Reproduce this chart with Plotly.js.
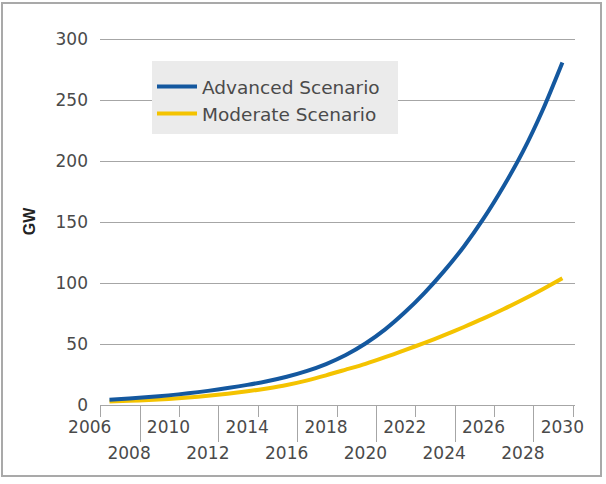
<!DOCTYPE html>
<html>
<head>
<meta charset="utf-8">
<script src="https://cdn.plot.ly/plotly-3.0.1.min.js"></script>
<style>
  html, body { margin: 0; padding: 0; background: #fff; }
  #wrap { position: relative; width: 606px; height: 484px; }
  #chart { position: absolute; left: 0; top: 0; width: 606px; height: 484px; }
  #frame { position: absolute; left: 1px; top: 2px; width: 597px; height: 471px;
           border: 2px solid #a9a9a9; pointer-events: none; }
</style>
</head>
<body>
<div id="wrap">
  <div id="chart"></div>
  <div id="frame"></div>
</div>
<script>
// ---- data ----
const years = [2007, 2008, 2009, 2010, 2011, 2012, 2013, 2014, 2015, 2016, 2017, 2018,
               2019, 2020, 2021, 2022, 2023, 2024, 2025, 2026, 2027, 2028, 2029, 2030];
const advanced = [4.3, 5.3, 6.5, 7.9, 9.6, 11.6, 13.9, 16.5, 19.5, 23.2, 27.8, 33.6,
                  41, 50.4, 62, 76, 92, 110, 130, 153, 179, 208, 242, 281];
const moderate = [2.8, 3.4, 4.1, 5.0, 6.1, 7.5, 9.2, 11.2, 13.6, 16.4, 20.0, 24.3,
                  29, 33.8, 39.2, 45, 51, 57.3, 64, 71, 78.5, 86.5, 95, 104];
const seriesNames = ["Advanced Scenario", "Moderate Scenario"];
const upperRowYears = [2006, 2010, 2014, 2018, 2022, 2026, 2030];
const lowerRowYears = [2008, 2012, 2016, 2020, 2024, 2028];
const yTicks = [0, 50, 100, 150, 200, 250, 300];
const yTitle = "GW";

// ---- styling ----
const TICK_OFFSET = 0.554;   // tick marks sit a bit right of the label centres
const LABEL_SHIFT = -11;     // px
const FONT = "DejaVu Sans, Liberation Sans, sans-serif";
const TXT = "#4a4a4a";
const GRID = "#a6a6a6";

const traces = [
  { x: years, y: moderate, name: seriesNames[1], type: "scatter", mode: "lines",
    line: { color: "#f4c300", width: 4, shape: "spline", smoothing: 0.8 }, legendrank: 2,
    xaxis: "x", yaxis: "y" },
  { x: years, y: advanced, name: seriesNames[0], type: "scatter", mode: "lines",
    line: { color: "#14589f", width: 4, shape: "spline", smoothing: 0.8 }, legendrank: 1,
    xaxis: "x", yaxis: "y" },
  // carrier so the second (lower-row) x axis is drawn; invisible
  { x: years, y: advanced, type: "scatter", mode: "lines", line: { width: 0 },
    opacity: 0, showlegend: false, hoverinfo: "skip", xaxis: "x2", yaxis: "y" }
];

const xRange = [2006.518, 2030.64];
const PLOT_L = 100, PLOT_R = 575, PLOT_T = 38, PLOT_B = 405;
const px = v => (v - PLOT_L) / (PLOT_R - PLOT_L);
const py = v => (PLOT_B - v) / (PLOT_B - PLOT_T);

const layout = {
  width: 606, height: 484,
  margin: { l: PLOT_L, r: 606 - PLOT_R, t: PLOT_T, b: 484 - PLOT_B },
  paper_bgcolor: "#ffffff", plot_bgcolor: "#ffffff",
  font: { family: FONT, color: TXT, size: 17 },
  showlegend: true,
  legend: {
    x: px(152), y: py(68), xanchor: "left", yanchor: "top",
    bgcolor: "rgba(0,0,0,0)", borderwidth: 0, itemwidth: 40,
    font: { family: FONT, size: 18.5, color: TXT },
    traceorder: "normal"
  },
  shapes: [{
    type: "rect", xref: "paper", yref: "paper", layer: "above",
    x0: px(152), x1: px(398), y0: py(134), y1: py(61),
    fillcolor: "#ebebeb", line: { width: 0 }
  }],
  xaxis: {
    range: xRange, type: "linear",
    showgrid: false, zeroline: false,
    showline: true, linecolor: GRID, linewidth: 1,
    ticks: "outside", ticklen: 11, tickcolor: GRID, tickwidth: 1,
    tickmode: "array",
    tickvals: upperRowYears.map(v => v + TICK_OFFSET),
    ticktext: upperRowYears.map(String),
    ticklabelshift: LABEL_SHIFT, ticklabelstandoff: -4,
    tickfont: { family: FONT, size: 17, color: TXT },
    fixedrange: true
  },
  xaxis2: {
    range: xRange, type: "linear", overlaying: "x", anchor: "y", side: "bottom",
    showgrid: false, zeroline: false, showline: false,
    ticks: "outside", ticklen: 36, tickcolor: GRID, tickwidth: 1,
    tickmode: "array",
    tickvals: lowerRowYears.map(v => v + TICK_OFFSET),
    ticktext: lowerRowYears.map(String),
    ticklabelshift: LABEL_SHIFT, ticklabelstandoff: -3,
    tickfont: { family: FONT, size: 17, color: TXT },
    fixedrange: true
  },
  yaxis: {
    range: [0, 301],
    tickmode: "array", tickvals: yTicks, ticktext: yTicks.map(String),
    showgrid: true, gridcolor: GRID, gridwidth: 1,
    zeroline: false, showline: false, ticks: "",
    ticklabelstandoff: 11,
    tickfont: { family: FONT, size: 17, color: TXT },
    title: { text: yTitle, standoff: 15,
             font: { family: "Liberation Sans Narrow, Liberation Sans, sans-serif", size: 16, color: "#222", weight: "bold" } },
    fixedrange: true
  }
};

Plotly.newPlot("chart", traces, layout, { staticPlot: true, displayModeBar: false });
</script>
</body>
</html>
